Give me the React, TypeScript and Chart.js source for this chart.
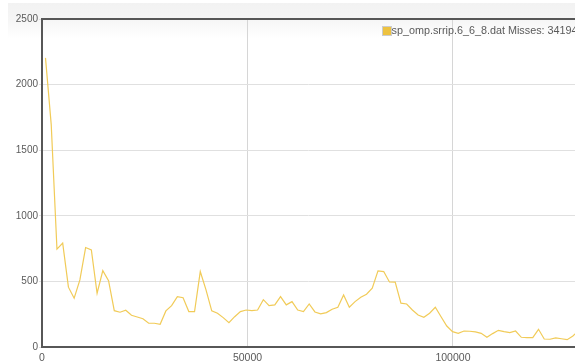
import { useEffect, useRef } from "react";
import { Chart, registerables } from "chart.js";

Chart.register(...registerables);

// Cache-miss counts sampled along the access trace.
const SERIES_LABEL = "sp_omp.srrip.6_6_8.dat Misses: 341946";
const SERIES_COLOR = "#edc240";
const LINE_COLOR = "#f1cb58";
const SAMPLE_START = 850;
const SAMPLE_STEP = 1395;
const MISSES = [
  2204, 1695, 746, 792, 456, 372, 511, 758, 740, 410,
  582, 506, 277, 265, 280, 242, 229, 215, 181, 181,
  173, 275, 315, 384, 376, 270, 270, 575, 435, 275,
  257, 224, 186, 231, 270, 282, 277, 282, 361, 315,
  321, 384, 321, 346, 282, 270, 328, 267, 252, 262,
  288, 303, 397, 303, 346, 379, 402, 448, 580, 575,
  496, 494, 334, 328, 282, 244, 227, 257, 303, 231,
  160, 117, 104, 122, 120, 115, 104, 74, 102, 127,
  117, 109, 122, 74, 71, 71, 135, 61, 59, 69,
  63, 56, 84, 125,
];
const X_TICKS = [0, 50000, 100000];
const Y_TICKS = [0, 500, 1000, 1500, 2000, 2500];
const X_MAX = 129700;
const Y_MAX = 2500;

const FONT = "Arial, 'Liberation Sans', Helvetica, sans-serif";
const TEXT_COLOR = "#5a5a5a";
const FRAME_COLOR = "#575757";

const CANVAS_W = 700;
const CANVAS_H = 380;

const framePlugin = {
  id: "frame",
  beforeDraw(chart: any) {
    const { ctx, width, height } = chart;
    ctx.save();
    const g = ctx.createLinearGradient(0, 0, 0, 36);
    g.addColorStop(0, "#f2f2f2");
    g.addColorStop(0.5, "#f6f6f6");
    g.addColorStop(1, "#ffffff");
    ctx.fillStyle = g;
    ctx.fillRect(0, 0, width, height);
    ctx.restore();
  },
  afterDatasetsDraw(chart: any) {
    const { ctx, chartArea } = chart;
    const { left, top, right, bottom } = chartArea;
    ctx.save();
    ctx.fillStyle = FRAME_COLOR;
    ctx.fillRect(left - 1, top - 1, 2, bottom - top + 2);
    ctx.fillRect(left - 1, top - 1, right - left + 1, 2);
    ctx.fillRect(left - 1, bottom - 1, right - left + 1, 2);

    // legend entry
    const bx = left + 340;
    const by = top + 7;
    ctx.strokeStyle = "#cccccc";
    ctx.lineWidth = 1;
    ctx.strokeRect(bx + 0.5, by + 0.5, 9, 9);
    ctx.fillStyle = SERIES_COLOR;
    ctx.fillRect(bx + 1, by + 1, 8, 8);
    ctx.fillStyle = TEXT_COLOR;
    ctx.font = `10.8px ${FONT}`;
    ctx.textBaseline = "middle";
    ctx.textAlign = "left";
    ctx.fillText(SERIES_LABEL, bx + 9.5, by + 5.5);
    ctx.restore();
  },
};

export default function App() {
  const canvasRef = useRef<HTMLCanvasElement | null>(null);

  useEffect(() => {
    const canvas = canvasRef.current;
    if (!canvas) return;
    const points = MISSES.map((y, i) => ({ x: SAMPLE_START + i * SAMPLE_STEP, y }));
    const chart = new Chart(canvas, {
      type: "line",
      data: {
        datasets: [
          {
            label: SERIES_LABEL,
            data: points,
            borderColor: LINE_COLOR,
            borderWidth: 1.2,
            pointRadius: 0,
            tension: 0,
            fill: false,
          },
        ],
      },
      options: {
        animation: false,
        responsive: false,
        maintainAspectRatio: false,
        layout: { padding: { left: 0, top: 16, right: CANVAS_W - 567, bottom: 0 } },
        plugins: {
          legend: { display: false },
          tooltip: { enabled: false },
        },
        scales: {
          x: {
            type: "linear",
            min: 0,
            max: X_MAX,
            afterBuildTicks: (s: any) => {
              s.ticks = X_TICKS.map((v) => ({ value: v }));
            },
            afterFit: (s: any) => {
              s.height = CANVAS_H - 344;
            },
            grid: { color: "#d6d6d6", lineWidth: 1, drawTicks: false },
            border: { display: false },
            ticks: {
              padding: 5,
              color: TEXT_COLOR,
              font: { family: FONT, size: 10.5 },
              maxRotation: 0,
              autoSkip: false,
              callback: (v: any) => String(v),
            },
          },
          y: {
            type: "linear",
            min: 0,
            max: Y_MAX,
            afterBuildTicks: (s: any) => {
              s.ticks = Y_TICKS.map((v) => ({ value: v }));
            },
            afterFit: (s: any) => {
              s.width = 34;
            },
            grid: { color: "#e0e0e0", lineWidth: 1, drawTicks: true, tickLength: 3 },
            border: { display: false },
            ticks: {
              padding: 1,
              color: TEXT_COLOR,
              font: { family: FONT, size: 10 },
              callback: (v: any) => String(v),
            },
          },
        },
      },
      plugins: [framePlugin],
    });
    return () => chart.destroy();
  }, []);

  return (
    <div
      style={{
        position: "fixed",
        left: 0,
        top: 0,
        width: 575,
        height: 362,
        overflow: "hidden",
        background: "#ffffff",
      }}
    >
      <canvas
        ref={canvasRef}
        width={CANVAS_W}
        height={CANVAS_H}
        style={{ position: "absolute", left: 8, top: 3, width: CANVAS_W, height: CANVAS_H }}
      />
    </div>
  );
}
